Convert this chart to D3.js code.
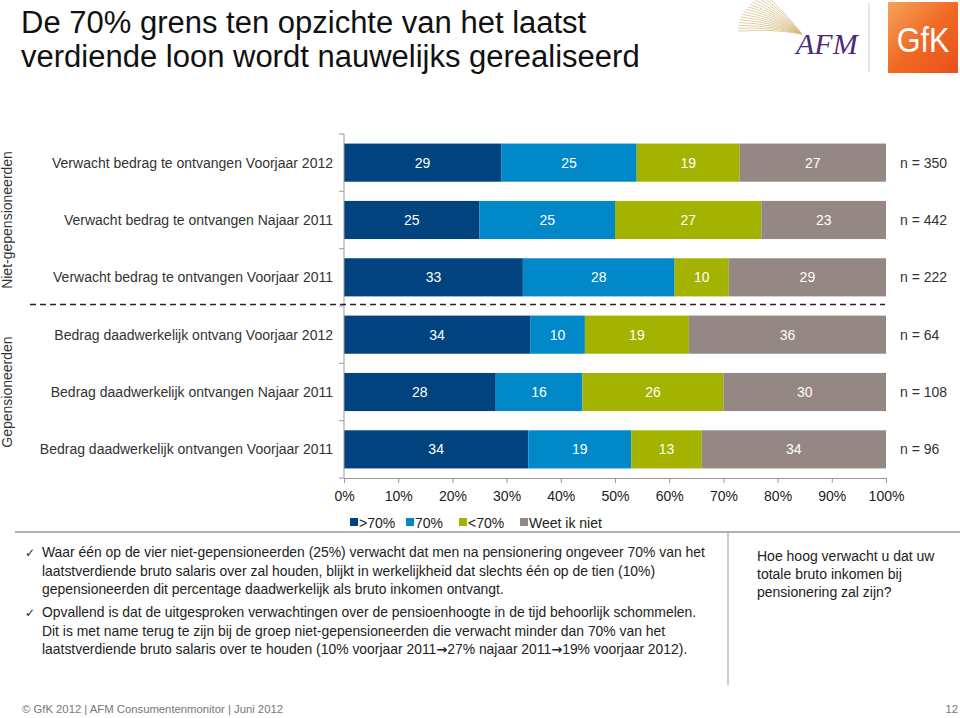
<!DOCTYPE html>
<html><head><meta charset="utf-8">
<script src="https://cdn.jsdelivr.net/npm/d3@7"></script>
<style>body{margin:0;background:#fff}svg{display:block;font-family:Arial,"Liberation Sans",sans-serif}</style>
</head><body>
<svg id="c" width="960" height="718"></svg>
<script>
const categories = [
  "Verwacht bedrag te ontvangen Voorjaar 2012",
  "Verwacht bedrag te ontvangen Najaar 2011",
  "Verwacht bedrag te ontvangen Voorjaar 2011",
  "Bedrag daadwerkelijk ontvang Voorjaar 2012",
  "Bedrag daadwerkelijk ontvangen Najaar 2011",
  "Bedrag daadwerkelijk ontvangen Voorjaar 2011"
];
const seriesNames = [">70%", "70%", "<70%", "Weet ik niet"];
const above70 = [29, 25, 33, 34, 28, 34];
const eq70 = [25, 25, 28, 10, 16, 19];
const below70 = [19, 27, 10, 19, 26, 13];
const weetNiet = [27, 23, 29, 36, 30, 34];
const nLabels = ["n = 350", "n = 442", "n = 222", "n = 64", "n = 108", "n = 96"];
const xTicks = [0, 10, 20, 30, 40, 50, 60, 70, 80, 90, 100];
const groups = [{name: "Niet-gepensioneerden", rows: [0, 1, 2]}, {name: "Gepensioneerden", rows: [3, 4, 5]}];
const colors = ["#00437F", "#0088C9", "#A4B300", "#958783"];

const svg = d3.select("#c");
const FS = 14;
const x = d3.scaleLinear().domain([0, 100]).range([344, 886]);
const y = d3.scaleBand().domain(categories).range([134, 478]).paddingInner(0.335).paddingOuter(0.167);
const seriesData = [above70, eq70, below70, weetNiet];

// table for 100% stacked layout
const table = categories.map((c, i) => {
  const o = {cat: c};
  seriesNames.forEach((s, k) => o[s] = seriesData[k][i]);
  return o;
});
const stacked = d3.stack().keys(seriesNames).offset(d3.stackOffsetExpand)(table);

// Title
const title = svg.append("text").attr("fill", "#111").attr("font-size", 31);
title.append("tspan").attr("x", 21).attr("y", 33).text("De 70% grens ten opzichte van het laatst");
title.append("tspan").attr("x", 21).attr("y", 67).text("verdiende loon wordt nauwelijks gerealiseerd");

// Logos
const afm = svg.append("g");
for (let i = 0; i < 16; i++) {
  const a = -0.95 + i * 0.065;
  afm.append("path")
    .attr("d", `M802,34 Q${792 - 20*Math.cos(a)},${28 + 25*Math.sin(a)} ${802 - 64*Math.cos(a)},${30 + 44*Math.sin(a)}`)
    .attr("fill", "none").attr("stroke", "#d4b87a").attr("stroke-width", 0.8).attr("opacity", 0.85);
}
afm.append("text").attr("x", 796).attr("y", 54).attr("font-family", "'Liberation Serif',serif").attr("font-style", "italic")
  .attr("font-size", 30).attr("fill", "#4a2a7a").text("AFM");
svg.append("line").attr("x1", 869).attr("x2", 869).attr("y1", 3).attr("y2", 72).attr("stroke", "#ccc");
const grad = svg.append("defs").append("linearGradient").attr("id", "gfk").attr("x1", 0).attr("y1", 0).attr("x2", 1).attr("y2", 1);
grad.append("stop").attr("offset", 0).attr("stop-color", "#f7a35c");
grad.append("stop").attr("offset", 0.5).attr("stop-color", "#f06a24");
grad.append("stop").attr("offset", 1).attr("stop-color", "#e8501a");
svg.append("rect").attr("x", 888).attr("y", 2).attr("width", 70).attr("height", 71).attr("fill", "url(#gfk)");
svg.append("text").attr("x", 923).attr("y", 52).attr("text-anchor", "middle").attr("font-size", 36).attr("fill", "#fff")
  .attr("transform", "translate(923,0) scale(0.85,1) translate(-923,0)").text("GfK");

// Bars
const chart = svg.append("g");
stacked.forEach((layer, k) => {
  layer.forEach((d, i) => {
    const c = categories[i];
    const v = seriesData[k][i];
    chart.append("rect").attr("x", x(d[0] * 100)).attr("y", y(c)).attr("width", x(d[1] * 100) - x(d[0] * 100))
      .attr("height", y.bandwidth()).attr("fill", colors[k]);
    chart.append("text").attr("x", x((d[0] + d[1]) * 50)).attr("y", y(c) + y.bandwidth() / 2 + 5).attr("text-anchor", "middle")
      .attr("font-size", FS).attr("fill", "#fff").text(v);
  });
});
categories.forEach((c, i) => {
  svg.append("text").attr("x", 333).attr("y", y(c) + y.bandwidth() / 2 + 5).attr("text-anchor", "end")
    .attr("font-size", FS).attr("fill", "#333").text(c);
  svg.append("text").attr("x", 900).attr("y", y(c) + y.bandwidth() / 2 + 5)
    .attr("font-size", FS).attr("fill", "#333").text(nLabels[i]);
});

// Y axis
svg.append("line").attr("x1", 344).attr("x2", 344).attr("y1", 134).attr("y2", 478).attr("stroke", "#999");
const step = y.step();
for (let i = 0; i <= categories.length; i++) {
  const yy = 134 + i * step;
  svg.append("line").attr("x1", 339).attr("x2", 344).attr("y1", yy).attr("y2", yy).attr("stroke", "#999");
}
// X axis
const xAxis = d3.axisBottom(x).tickValues(xTicks).tickSize(5).tickFormat(d => d + "%");
const xg = svg.append("g").attr("transform", "translate(0,478)").call(xAxis);
xg.select(".domain").attr("stroke", "#999");
xg.selectAll(".tick line").attr("stroke", "#999");
xg.selectAll(".tick text").attr("font-size", FS).attr("fill", "#222").attr("dy", 0).attr("y", 23).attr("font-family", "Arial,'Liberation Sans',sans-serif");

// Dashed divider
svg.append("line").attr("x1", 30).attr("x2", 885).attr("y1", 134 + 3 * step - 1.5).attr("y2", 134 + 3 * step - 1.5)
  .attr("stroke", "#222").attr("stroke-width", 1.5).attr("stroke-dasharray", "6,4");

// Group labels
groups.forEach(g => {
  const y0 = y(categories[g.rows[0]]), y1 = y(categories[g.rows[g.rows.length - 1]]) + y.bandwidth();
  svg.append("text").attr("transform", `translate(12,${(y0 + y1) / 2}) rotate(-90)`).attr("text-anchor", "middle")
    .attr("font-size", FS).attr("fill", "#333").text(g.name);
});

// Legend
const legX = [350, 406, 459, 520];
seriesNames.forEach((n, k) => {
  svg.append("rect").attr("x", legX[k]).attr("y", 518).attr("width", 8).attr("height", 8).attr("fill", colors[k]);
  svg.append("text").attr("x", legX[k] + 9).attr("y", 528).attr("font-size", FS).attr("fill", "#222").text(n);
});

// Separators
svg.append("line").attr("x1", 15).attr("x2", 960).attr("y1", 532).attr("y2", 532).attr("stroke", "#999").attr("stroke-width", 1.5);
svg.append("line").attr("x1", 728).attr("x2", 728).attr("y1", 532).attr("y2", 685).attr("stroke", "#999").attr("stroke-width", 1);

// Bullets
const bullets = [
  ["Waar één op de vier niet-gepensioneerden (25%) verwacht dat men na pensionering ongeveer 70% van het",
   "laatstverdiende bruto salaris over zal houden, blijkt in werkelijkheid dat slechts één op de tien (10%)",
   "gepensioneerden dit percentage daadwerkelijk als bruto inkomen ontvangt."],
  ["Opvallend is dat de uitgesproken verwachtingen over de pensioenhoogte in de tijd behoorlijk schommelen.",
   "Dit is met name terug te zijn bij de groep niet-gepensioneerden die verwacht minder dan 70% van het",
   "laatstverdiende bruto salaris over te houden (10% voorjaar 2011\u219227% najaar 2011\u219219% voorjaar 2012)."]
];
const bStart = [557, 617];
bullets.forEach((lines, b) => {
  svg.append("text").attr("x", 25).attr("y", bStart[b]).attr("font-family", "'DejaVu Sans',sans-serif").attr("font-size", 12).attr("fill", "#222").text("\u2713");
  lines.forEach((l, i) => {
    const t = svg.append("text").attr("x", 42).attr("y", bStart[b] + i * 18.5).attr("font-size", 13.9).attr("fill", "#222");
    l.split("\u2192").forEach((part, j) => {
      if (j > 0) t.append("tspan").attr("font-family", "'DejaVu Sans',sans-serif").attr("font-weight", "bold").attr("font-size", 13).text("\u2192");
      t.append("tspan").text(part);
    });
  });
});
["Hoe hoog verwacht u dat uw", "totale bruto inkomen bij", "pensionering zal zijn?"].forEach((l, i) => {
  svg.append("text").attr("x", 757).attr("y", 561 + i * 18).attr("font-size", FS).attr("fill", "#222").text(l);
});

// Footer
svg.append("text").attr("x", 22).attr("y", 713).attr("font-size", 11.3).attr("fill", "#777").text("\u00A9 GfK 2012 | AFM Consumentenmonitor | Juni 2012");
svg.append("text").attr("x", 958).attr("y", 713).attr("text-anchor", "end").attr("font-size", 11.3).attr("fill", "#777").text("12");
</script>
</body></html>
